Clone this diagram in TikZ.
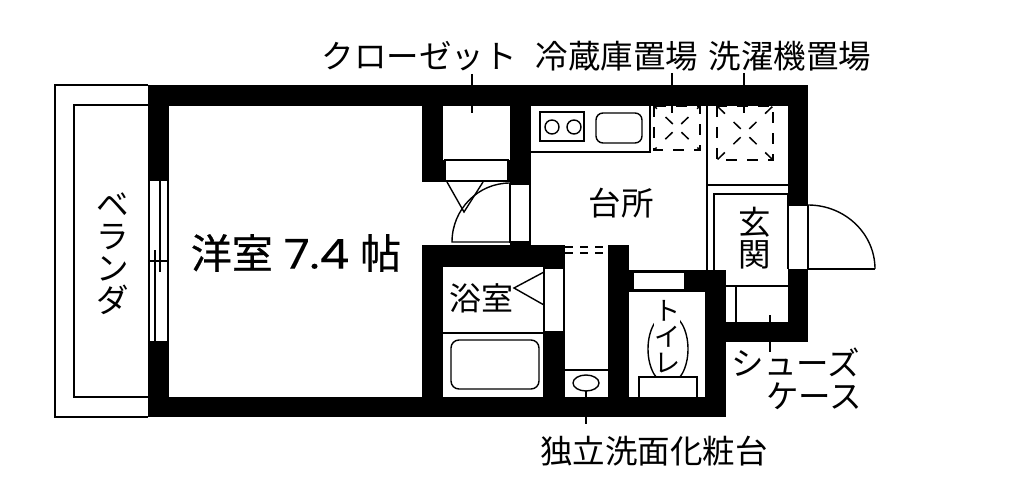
\documentclass[tikz,border=0pt]{standalone}
\usepackage{fontspec}
\setmainfont{Noto Sans CJK JP}
\newfontfamily\roomfont[FakeBold=0.5]{Noto Sans CJK JP}
\newfontfamily\roomnum[FakeBold=0.2]{Poppins}
\tikzset{
  wall/.style={fill=black},
  thin line/.style={draw=black,line width=1.4pt},
  opening/.style={fill=white,draw=black,line width=1.4pt},
  leader/.style={draw=black,line width=1.4pt},
  broken/.style={draw=black,line width=1.5pt,dash pattern=on 11pt off 10pt},
  cross/.style={draw=black,line width=1.5pt,dash pattern=on 10pt off 12pt},
  label/.style={inner sep=0pt,font=\fontsize{32.5}{32}\selectfont,align=center},
}
\begin{document}
\begin{tikzpicture}[x=1pt,y=-1pt]
\useasboundingbox (0,0) rectangle (1024,486);

% Balcony
\draw[thin line] (148,85) -- (55,85) -- (55,417) -- (148,417);
\draw[thin line] (148,105) -- (74,105) -- (74,397) -- (148,397);

% Walls
\fill[wall] (148,85) rectangle (808,106);
\fill[wall] (148,85) rectangle (169,417);
\fill[wall] (148,397) rectangle (726,417);
\fill[wall] (422,85) rectangle (443,182);
\fill[wall] (510,85) rectangle (531,183);
\fill[wall] (443,160) rectangle (510,182);
\fill[wall] (422,245) rectangle (565,267);
\fill[wall] (422,245) rectangle (443,417);
\fill[wall] (510,242) rectangle (531,245);
\fill[wall] (543,267) rectangle (565,397);
\fill[wall] (608,245) rectangle (629,417);
\fill[wall] (629,270) rectangle (726,292);
\fill[wall] (705,270) rectangle (726,417);
\fill[wall] (788,85) rectangle (808,205);
\fill[wall] (788,269) rectangle (808,342);
\fill[wall] (726,322) rectangle (808,342);

% Window
\draw[opening] (149,180) rectangle (168,342);
\draw[thin line] (160,180) -- (160,272);
\draw[thin line] (155,250) -- (155,342);
\draw[thin line] (149,261) -- (168,261);

% Closet
\draw[opening] (445,160) rectangle (508,181);
\draw[thin line] (447,182) -- (464,212) -- (483,182);
\draw[opening] (510,184) rectangle (530,242);
\draw[thin line] (510,183) arc[start angle=-90,end angle=-180,x radius=58,y radius=59] -- (510,242) -- cycle;

% Bathroom
\draw[opening] (544,268) rectangle (564,332);
\draw[thin line] (544,272) -- (514,288) -- (544,305);
\draw[thin line] (443,333) -- (543,333);
\draw[thin line,rounded corners=8pt] (451,340) rectangle (539,389);

% Corridor and washstand
\draw[broken,dash pattern=on 8pt off 7pt] (565,247) -- (608,247);
\draw[broken,dash pattern=on 8pt off 7pt] (565,253) -- (608,253);
\draw[thin line] (565,370) -- (608,370);
\draw[thin line] (586,383) ellipse[x radius=13,y radius=8];

% Toilet
\draw[opening] (633,272) rectangle (685,290);
\draw[thin line] (668,349) ellipse[x radius=20,y radius=35];
\draw[thin line,fill=white] (639,397) -- (639,377) -- (697,377) -- (697,397);

% Kitchen
\draw[thin line] (531,152) -- (650,152) -- (650,106);
\draw[thin line] (540,112) rectangle (584,141);
\draw[thin line] (552,127) circle[radius=7];
\draw[thin line] (574,127) circle[radius=7];
\draw[thin line,rounded corners=7pt] (596,113) rectangle (642,143);

% Fridge and washer spaces
\draw[broken] (654,106) rectangle (700,150);
\draw[cross,dash phase=6pt] (654,106) -- (700,150);
\draw[cross,dash phase=6pt] (700,106) -- (654,150);
\draw[broken] (717,106) rectangle (773,160);
\draw[cross,dash phase=21pt] (717,106) -- (773,160);
\draw[cross,dash phase=21pt] (773,106) -- (717,160);

% Entrance
\draw[thin line] (707,106) -- (707,270);
\draw[thin line] (707,185) -- (788,185);
\draw[thin line] (714,270) -- (714,194) -- (788,194) -- (788,269);
\draw[thin line] (726,286) -- (788,286);
\draw[thin line] (736,286) -- (736,322);
\draw[thin line] (808,205) -- (808,269) -- (875,269);
\draw[thin line] (788,205) -- (808,205);
\draw[thin line] (808,205) arc[start angle=-90,end angle=0,x radius=67,y radius=64];

% Leader lines
\coordinate (closetup) at (472,74);
\coordinate (closetend) at (472,113);
\coordinate (fridgeup) at (672,73);
\coordinate (fridgeend) at (672,113);
\coordinate (washerup) at (744,73);
\coordinate (washerend) at (744,113);
\coordinate (basinend) at (586,391);
\coordinate (basinlow) at (586,424);
\coordinate (shoeend) at (770,315);
\coordinate (shoelow) at (770,352);
\draw[leader] (closetup) -- (closetend);
\draw[leader] (fridgeup) -- (fridgeend);
\draw[leader] (washerup) -- (washerend);
\draw[leader] (basinend) -- (basinlow);
\draw[leader] (shoeend) -- (shoelow);

% Labels
\node[label] (closetlabel) at (419,56.5) {クローゼット};
\node[label] (fridgelabel) at (617,56.5) {冷蔵庫置場};
\node[label] (washerlabel) at (790,56.5) {洗濯機置場};
\node[label,font=\fontsize{41}{41}\selectfont] (roomlabel) at (296,253) {\roomfont 洋室\hspace{11pt}\scalebox{1.15}[1]{\roomnum 7.4}\hspace{11pt}帖};
\node[label] (kitchenlabel) at (621,203) {台所};
\node[label] (entrylabel) at (755,238) {玄\\関};
\node[label] (balconylabel) at (113,254) {ベ\\ラ\\ン\\ダ};
\node[label,font=\fontsize{32}{32}\selectfont] (bathlabel) at (481,298) {浴室};
\node[label,fill=white,font=\fontsize{26}{26}\selectfont] (toiletlabel) at (667,337) {ト\\イ\\レ};
\node[label] (shoelabel) at (796,362) {シューズ};
\node[label] (caselabel) at (814,396) {ケース};
\node[label] (basinlabel) at (654,451) {独立洗面化粧台};
\end{tikzpicture}
\end{document}
